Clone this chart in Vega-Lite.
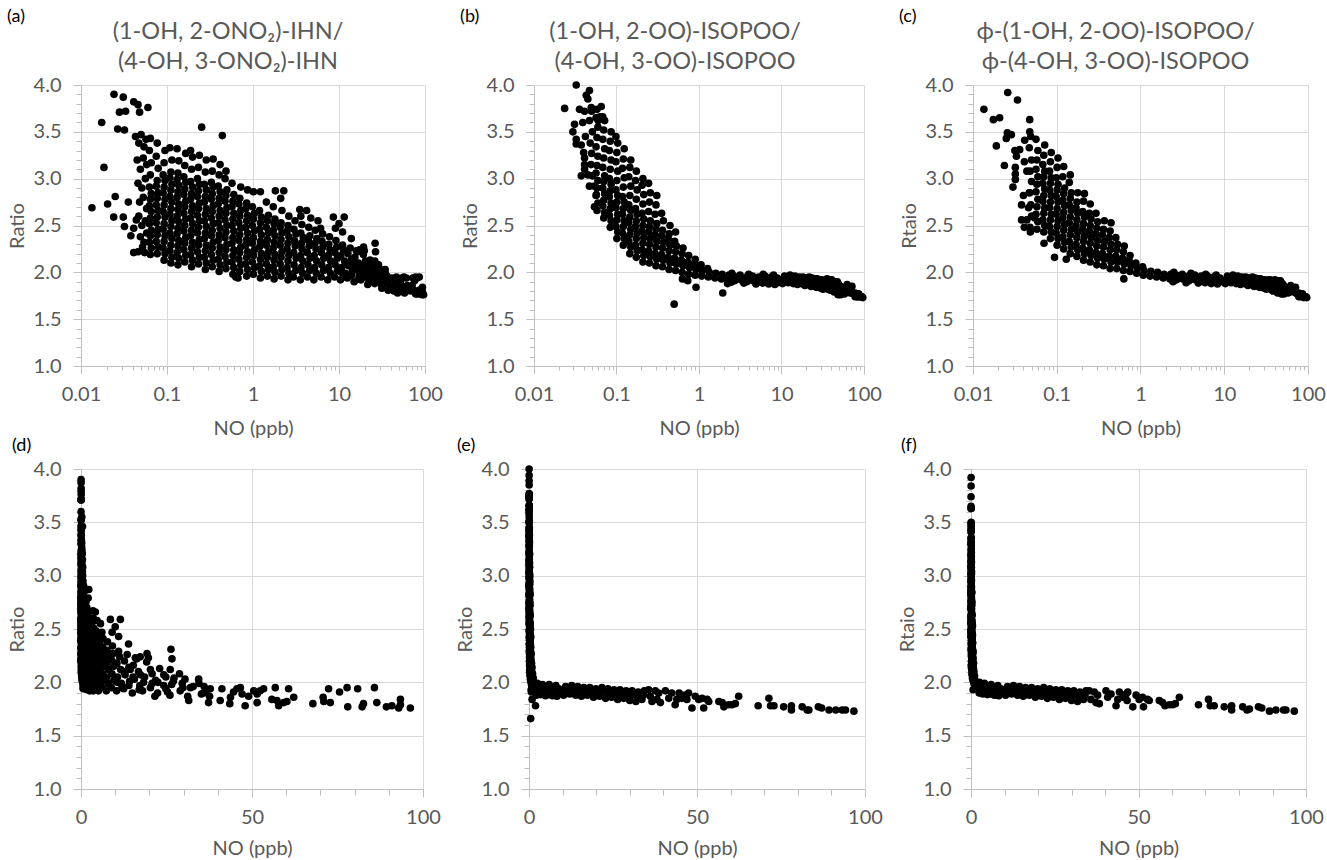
{
"$schema":"https://vega.github.io/schema/vega-lite/v6.json",
"background":"#ffffff",
"padding":{"left":7,"top":7,"right":0,"bottom":0},
"config":{
 "font":"Lato",
 "view":{"stroke":null},
 "axis":{"labelFont":"Lato","labelFontSize":20,"labelColor":"#595959","titleFont":"Lato","titleFontSize":20,"titleFontWeight":"normal","titleColor":"#595959","domainColor":"#bfbfbf","tickColor":"#bfbfbf","gridColor":"#d9d9d9","labelFlush":false,"labelOverlap":false},
 "title":{"font":"Lato","fontSize":23.5,"fontWeight":"normal","color":"#595959"}
},
"datasets":{
"ihn":[
{"NO":0.0134,"ratio":2.69},{"NO":0.0174,"ratio":3.6},{"NO":0.0185,"ratio":3.12},{"NO":0.0204,"ratio":2.73},{"NO":0.0242,"ratio":3.9},{"NO":0.025,"ratio":2.81},{"NO":0.024,"ratio":2.59},{"NO":0.0267,"ratio":3.53},{"NO":0.028,"ratio":3.71},{"NO":0.031,"ratio":3.87},{"NO":0.032,"ratio":3.52},{"NO":0.033,"ratio":3.72},{"NO":0.031,"ratio":2.59},{"NO":0.032,"ratio":2.49},{"NO":0.0355,"ratio":2.75},{"NO":0.038,"ratio":2.39},{"NO":0.044,"ratio":2.56},{"NO":0.041,"ratio":2.47},{"NO":0.041,"ratio":3.82},{"NO":0.046,"ratio":3.79},{"NO":0.048,"ratio":3.71},{"NO":0.06,"ratio":3.76},{"NO":0.041,"ratio":2.21},{"NO":0.046,"ratio":2.22},{"NO":0.055,"ratio":2.21},{"NO":0.253,"ratio":3.55},{"NO":0.44,"ratio":3.46},{"NO":0.63,"ratio":1.95},{"NO":0.67,"ratio":1.94},
{"NO":0.043,"ratio":3.45},{"NO":0.047,"ratio":3.38},{"NO":0.05,"ratio":3.47},{"NO":0.054,"ratio":3.34},{"NO":0.057,"ratio":3.42},{"NO":0.045,"ratio":3.2},{"NO":0.049,"ratio":3.1},{"NO":0.053,"ratio":3.22},{"NO":0.058,"ratio":3.15},{"NO":0.046,"ratio":2.95},{"NO":0.051,"ratio":2.9},{"NO":0.056,"ratio":3.0},{"NO":0.048,"ratio":2.75},{"NO":0.053,"ratio":2.8},{"NO":0.058,"ratio":2.68},{"NO":0.047,"ratio":2.6},{"NO":0.051,"ratio":2.5},{"NO":0.056,"ratio":2.55},{"NO":0.049,"ratio":2.38},{"NO":0.054,"ratio":2.32},{"NO":0.058,"ratio":2.42},{"NO":0.052,"ratio":2.27},
{"NO":0.064,"ratio":2.19},{"NO":0.0656,"ratio":2.26},{"NO":0.0624,"ratio":2.32},{"NO":0.064,"ratio":2.39},{"NO":0.0656,"ratio":2.45},{"NO":0.0624,"ratio":2.52},{"NO":0.064,"ratio":2.58},{"NO":0.0656,"ratio":2.65},{"NO":0.0624,"ratio":2.71},{"NO":0.064,"ratio":2.78},{"NO":0.0656,"ratio":2.84},{"NO":0.0624,"ratio":2.91},{"NO":0.064,"ratio":3.04},{"NO":0.0656,"ratio":3.17},{"NO":0.0624,"ratio":3.3},{"NO":0.064,"ratio":3.43},
{"NO":0.077,"ratio":2.2},{"NO":0.079,"ratio":2.27},{"NO":0.075,"ratio":2.33},{"NO":0.077,"ratio":2.4},{"NO":0.079,"ratio":2.46},{"NO":0.075,"ratio":2.53},{"NO":0.077,"ratio":2.59},{"NO":0.079,"ratio":2.66},{"NO":0.075,"ratio":2.72},{"NO":0.077,"ratio":2.79},{"NO":0.079,"ratio":2.85},{"NO":0.075,"ratio":2.92},{"NO":0.077,"ratio":2.98},{"NO":0.079,"ratio":3.11},{"NO":0.075,"ratio":3.24},{"NO":0.077,"ratio":3.38},
{"NO":0.0925,"ratio":2.13},{"NO":0.0948,"ratio":2.2},{"NO":0.0902,"ratio":2.26},{"NO":0.0925,"ratio":2.33},{"NO":0.0948,"ratio":2.39},{"NO":0.0902,"ratio":2.46},{"NO":0.0925,"ratio":2.52},{"NO":0.0948,"ratio":2.59},{"NO":0.0902,"ratio":2.65},{"NO":0.0925,"ratio":2.72},{"NO":0.0948,"ratio":2.78},{"NO":0.0902,"ratio":2.85},{"NO":0.0925,"ratio":2.91},{"NO":0.0948,"ratio":2.98},{"NO":0.0902,"ratio":3.04},{"NO":0.0925,"ratio":3.17},{"NO":0.0948,"ratio":3.3},
{"NO":0.111,"ratio":2.1},{"NO":0.114,"ratio":2.16},{"NO":0.108,"ratio":2.23},{"NO":0.111,"ratio":2.29},{"NO":0.114,"ratio":2.36},{"NO":0.108,"ratio":2.42},{"NO":0.111,"ratio":2.49},{"NO":0.114,"ratio":2.55},{"NO":0.108,"ratio":2.62},{"NO":0.111,"ratio":2.68},{"NO":0.114,"ratio":2.75},{"NO":0.108,"ratio":2.81},{"NO":0.111,"ratio":2.88},{"NO":0.114,"ratio":2.94},{"NO":0.108,"ratio":3.01},{"NO":0.111,"ratio":3.07},{"NO":0.114,"ratio":3.2},{"NO":0.108,"ratio":3.33},
{"NO":0.134,"ratio":2.08},{"NO":0.137,"ratio":2.15},{"NO":0.131,"ratio":2.21},{"NO":0.134,"ratio":2.28},{"NO":0.137,"ratio":2.34},{"NO":0.131,"ratio":2.41},{"NO":0.134,"ratio":2.47},{"NO":0.137,"ratio":2.54},{"NO":0.131,"ratio":2.6},{"NO":0.134,"ratio":2.67},{"NO":0.137,"ratio":2.73},{"NO":0.131,"ratio":2.8},{"NO":0.134,"ratio":2.86},{"NO":0.137,"ratio":2.93},{"NO":0.131,"ratio":2.99},{"NO":0.134,"ratio":3.06},{"NO":0.137,"ratio":3.19},{"NO":0.131,"ratio":3.32},
{"NO":0.161,"ratio":2.11},{"NO":0.165,"ratio":2.18},{"NO":0.157,"ratio":2.24},{"NO":0.161,"ratio":2.31},{"NO":0.165,"ratio":2.37},{"NO":0.157,"ratio":2.44},{"NO":0.161,"ratio":2.5},{"NO":0.165,"ratio":2.57},{"NO":0.157,"ratio":2.63},{"NO":0.161,"ratio":2.7},{"NO":0.165,"ratio":2.76},{"NO":0.157,"ratio":2.83},{"NO":0.161,"ratio":2.89},{"NO":0.165,"ratio":2.96},{"NO":0.157,"ratio":3.02},{"NO":0.161,"ratio":3.14},{"NO":0.165,"ratio":3.27},
{"NO":0.193,"ratio":2.06},{"NO":0.198,"ratio":2.13},{"NO":0.188,"ratio":2.19},{"NO":0.193,"ratio":2.26},{"NO":0.198,"ratio":2.32},{"NO":0.188,"ratio":2.39},{"NO":0.193,"ratio":2.45},{"NO":0.198,"ratio":2.52},{"NO":0.188,"ratio":2.58},{"NO":0.193,"ratio":2.65},{"NO":0.198,"ratio":2.71},{"NO":0.188,"ratio":2.78},{"NO":0.193,"ratio":2.84},{"NO":0.198,"ratio":2.91},{"NO":0.188,"ratio":2.97},{"NO":0.193,"ratio":3.1},{"NO":0.198,"ratio":3.23},{"NO":0.188,"ratio":3.3},
{"NO":0.232,"ratio":2.09},{"NO":0.238,"ratio":2.16},{"NO":0.226,"ratio":2.22},{"NO":0.232,"ratio":2.29},{"NO":0.238,"ratio":2.35},{"NO":0.226,"ratio":2.42},{"NO":0.232,"ratio":2.48},{"NO":0.238,"ratio":2.55},{"NO":0.226,"ratio":2.61},{"NO":0.232,"ratio":2.68},{"NO":0.238,"ratio":2.74},{"NO":0.226,"ratio":2.81},{"NO":0.232,"ratio":2.87},{"NO":0.238,"ratio":2.94},{"NO":0.226,"ratio":3.0},{"NO":0.232,"ratio":3.12},{"NO":0.238,"ratio":3.25},
{"NO":0.279,"ratio":2.03},{"NO":0.286,"ratio":2.1},{"NO":0.272,"ratio":2.16},{"NO":0.279,"ratio":2.23},{"NO":0.286,"ratio":2.29},{"NO":0.272,"ratio":2.36},{"NO":0.279,"ratio":2.42},{"NO":0.286,"ratio":2.49},{"NO":0.272,"ratio":2.55},{"NO":0.279,"ratio":2.62},{"NO":0.286,"ratio":2.68},{"NO":0.272,"ratio":2.75},{"NO":0.279,"ratio":2.81},{"NO":0.286,"ratio":2.88},{"NO":0.272,"ratio":2.94},{"NO":0.279,"ratio":3.07},{"NO":0.286,"ratio":3.2},
{"NO":0.336,"ratio":2.06},{"NO":0.344,"ratio":2.13},{"NO":0.328,"ratio":2.19},{"NO":0.336,"ratio":2.26},{"NO":0.344,"ratio":2.32},{"NO":0.328,"ratio":2.39},{"NO":0.336,"ratio":2.45},{"NO":0.344,"ratio":2.52},{"NO":0.328,"ratio":2.58},{"NO":0.336,"ratio":2.65},{"NO":0.344,"ratio":2.71},{"NO":0.328,"ratio":2.78},{"NO":0.336,"ratio":2.84},{"NO":0.344,"ratio":2.91},{"NO":0.328,"ratio":2.96},{"NO":0.336,"ratio":3.08},{"NO":0.344,"ratio":3.21},
{"NO":0.404,"ratio":2.01},{"NO":0.414,"ratio":2.08},{"NO":0.394,"ratio":2.14},{"NO":0.404,"ratio":2.21},{"NO":0.414,"ratio":2.27},{"NO":0.394,"ratio":2.34},{"NO":0.404,"ratio":2.4},{"NO":0.414,"ratio":2.47},{"NO":0.394,"ratio":2.53},{"NO":0.404,"ratio":2.6},{"NO":0.414,"ratio":2.66},{"NO":0.394,"ratio":2.73},{"NO":0.404,"ratio":2.79},{"NO":0.414,"ratio":2.86},{"NO":0.394,"ratio":2.92},{"NO":0.404,"ratio":3.04},{"NO":0.414,"ratio":3.15},
{"NO":0.485,"ratio":2.04},{"NO":0.497,"ratio":2.11},{"NO":0.473,"ratio":2.17},{"NO":0.485,"ratio":2.24},{"NO":0.497,"ratio":2.3},{"NO":0.473,"ratio":2.37},{"NO":0.485,"ratio":2.43},{"NO":0.497,"ratio":2.5},{"NO":0.473,"ratio":2.56},{"NO":0.485,"ratio":2.63},{"NO":0.497,"ratio":2.69},{"NO":0.473,"ratio":2.76},{"NO":0.485,"ratio":2.82},{"NO":0.497,"ratio":2.88},{"NO":0.473,"ratio":3.0},{"NO":0.485,"ratio":3.08},
{"NO":0.584,"ratio":1.98},{"NO":0.598,"ratio":2.05},{"NO":0.57,"ratio":2.11},{"NO":0.584,"ratio":2.18},{"NO":0.598,"ratio":2.24},{"NO":0.57,"ratio":2.31},{"NO":0.584,"ratio":2.37},{"NO":0.598,"ratio":2.44},{"NO":0.57,"ratio":2.5},{"NO":0.584,"ratio":2.57},{"NO":0.598,"ratio":2.63},{"NO":0.57,"ratio":2.7},{"NO":0.584,"ratio":2.76},{"NO":0.598,"ratio":2.83},{"NO":0.57,"ratio":2.95},
{"NO":0.702,"ratio":2.01},{"NO":0.72,"ratio":2.08},{"NO":0.685,"ratio":2.14},{"NO":0.702,"ratio":2.21},{"NO":0.72,"ratio":2.27},{"NO":0.685,"ratio":2.34},{"NO":0.702,"ratio":2.4},{"NO":0.72,"ratio":2.47},{"NO":0.685,"ratio":2.53},{"NO":0.702,"ratio":2.6},{"NO":0.72,"ratio":2.66},{"NO":0.685,"ratio":2.73},{"NO":0.702,"ratio":2.79},{"NO":0.72,"ratio":2.91},
{"NO":0.844,"ratio":1.96},{"NO":0.865,"ratio":2.03},{"NO":0.823,"ratio":2.09},{"NO":0.844,"ratio":2.16},{"NO":0.865,"ratio":2.22},{"NO":0.823,"ratio":2.29},{"NO":0.844,"ratio":2.35},{"NO":0.865,"ratio":2.42},{"NO":0.823,"ratio":2.48},{"NO":0.844,"ratio":2.55},{"NO":0.865,"ratio":2.61},{"NO":0.823,"ratio":2.68},{"NO":0.844,"ratio":2.74},{"NO":0.865,"ratio":2.88},
{"NO":1.01,"ratio":1.98},{"NO":1.04,"ratio":2.05},{"NO":0.985,"ratio":2.11},{"NO":1.01,"ratio":2.18},{"NO":1.04,"ratio":2.24},{"NO":0.985,"ratio":2.31},{"NO":1.01,"ratio":2.37},{"NO":1.04,"ratio":2.44},{"NO":0.985,"ratio":2.5},{"NO":1.01,"ratio":2.57},{"NO":1.04,"ratio":2.63},{"NO":0.985,"ratio":2.7},{"NO":1.01,"ratio":2.86},
{"NO":1.22,"ratio":1.94},{"NO":1.25,"ratio":2.01},{"NO":1.19,"ratio":2.07},{"NO":1.22,"ratio":2.14},{"NO":1.25,"ratio":2.2},{"NO":1.19,"ratio":2.27},{"NO":1.22,"ratio":2.33},{"NO":1.25,"ratio":2.4},{"NO":1.19,"ratio":2.46},{"NO":1.22,"ratio":2.53},{"NO":1.25,"ratio":2.59},{"NO":1.19,"ratio":2.66},{"NO":1.22,"ratio":2.86},
{"NO":1.47,"ratio":1.96},{"NO":1.51,"ratio":2.03},{"NO":1.43,"ratio":2.09},{"NO":1.47,"ratio":2.16},{"NO":1.51,"ratio":2.22},{"NO":1.43,"ratio":2.29},{"NO":1.47,"ratio":2.35},{"NO":1.51,"ratio":2.42},{"NO":1.43,"ratio":2.48},{"NO":1.47,"ratio":2.55},{"NO":1.51,"ratio":2.61},{"NO":1.43,"ratio":2.75},
{"NO":1.76,"ratio":1.93},{"NO":1.8,"ratio":2.0},{"NO":1.72,"ratio":2.06},{"NO":1.76,"ratio":2.13},{"NO":1.8,"ratio":2.19},{"NO":1.72,"ratio":2.26},{"NO":1.76,"ratio":2.32},{"NO":1.8,"ratio":2.39},{"NO":1.72,"ratio":2.45},{"NO":1.76,"ratio":2.52},{"NO":1.8,"ratio":2.57},{"NO":1.72,"ratio":2.7},
{"NO":2.12,"ratio":1.96},{"NO":2.17,"ratio":2.03},{"NO":2.07,"ratio":2.09},{"NO":2.12,"ratio":2.16},{"NO":2.17,"ratio":2.22},{"NO":2.07,"ratio":2.29},{"NO":2.12,"ratio":2.35},{"NO":2.17,"ratio":2.42},{"NO":2.07,"ratio":2.48},{"NO":2.12,"ratio":2.53},{"NO":2.17,"ratio":2.66},
{"NO":2.55,"ratio":1.92},{"NO":2.61,"ratio":1.99},{"NO":2.49,"ratio":2.05},{"NO":2.55,"ratio":2.12},{"NO":2.61,"ratio":2.18},{"NO":2.49,"ratio":2.25},{"NO":2.55,"ratio":2.31},{"NO":2.61,"ratio":2.38},{"NO":2.49,"ratio":2.44},{"NO":2.55,"ratio":2.5},{"NO":2.61,"ratio":2.6},
{"NO":2.95,"ratio":1.95},{"NO":3.14,"ratio":2.02},{"NO":3.0,"ratio":2.08},{"NO":3.18,"ratio":2.15},{"NO":2.97,"ratio":2.21},{"NO":3.1,"ratio":2.28},{"NO":3.04,"ratio":2.34},{"NO":3.16,"ratio":2.41},{"NO":2.99,"ratio":2.46},{"NO":3.08,"ratio":2.55},
{"NO":3.55,"ratio":1.92},{"NO":3.78,"ratio":1.99},{"NO":3.62,"ratio":2.05},{"NO":3.8,"ratio":2.12},{"NO":3.58,"ratio":2.18},{"NO":3.72,"ratio":2.25},{"NO":3.65,"ratio":2.31},{"NO":3.84,"ratio":2.37},{"NO":3.6,"ratio":2.42},{"NO":3.7,"ratio":2.51},
{"NO":4.3,"ratio":1.95},{"NO":4.55,"ratio":2.02},{"NO":4.36,"ratio":2.08},{"NO":4.6,"ratio":2.15},{"NO":4.28,"ratio":2.21},{"NO":4.5,"ratio":2.28},{"NO":4.4,"ratio":2.34},{"NO":4.58,"ratio":2.39},{"NO":4.45,"ratio":2.48},
{"NO":5.1,"ratio":1.92},{"NO":5.45,"ratio":1.99},{"NO":5.2,"ratio":2.05},{"NO":5.5,"ratio":2.12},{"NO":5.15,"ratio":2.18},{"NO":5.4,"ratio":2.25},{"NO":5.25,"ratio":2.31},{"NO":5.52,"ratio":2.36},{"NO":5.3,"ratio":2.45},
{"NO":6.2,"ratio":1.95},{"NO":6.6,"ratio":2.02},{"NO":6.3,"ratio":2.08},{"NO":6.65,"ratio":2.15},{"NO":6.25,"ratio":2.21},{"NO":6.5,"ratio":2.27},{"NO":6.35,"ratio":2.33},{"NO":6.45,"ratio":2.41},
{"NO":7.4,"ratio":1.92},{"NO":7.95,"ratio":1.99},{"NO":7.55,"ratio":2.05},{"NO":8.0,"ratio":2.12},{"NO":7.5,"ratio":2.18},{"NO":7.85,"ratio":2.24},{"NO":7.6,"ratio":2.3},{"NO":7.75,"ratio":2.38},
{"NO":8.9,"ratio":1.95},{"NO":9.6,"ratio":2.02},{"NO":9.05,"ratio":2.08},{"NO":9.55,"ratio":2.15},{"NO":8.95,"ratio":2.21},{"NO":9.4,"ratio":2.27},{"NO":9.2,"ratio":2.34},
{"NO":10.4,"ratio":1.92},{"NO":11.8,"ratio":1.99},{"NO":10.7,"ratio":2.05},{"NO":11.6,"ratio":2.12},{"NO":10.5,"ratio":2.18},{"NO":11.3,"ratio":2.24},{"NO":11.0,"ratio":2.29},
{"NO":12.5,"ratio":1.94},{"NO":14.2,"ratio":2.01},{"NO":12.9,"ratio":2.07},{"NO":14.0,"ratio":2.14},{"NO":12.7,"ratio":2.2},{"NO":13.5,"ratio":2.26},
{"NO":15.0,"ratio":1.9},{"NO":17.2,"ratio":1.97},{"NO":15.6,"ratio":2.03},{"NO":16.8,"ratio":2.1},{"NO":15.3,"ratio":2.16},{"NO":16.3,"ratio":2.22},
{"NO":18.0,"ratio":1.92},{"NO":20.8,"ratio":1.99},{"NO":18.6,"ratio":2.05},{"NO":20.3,"ratio":2.12},{"NO":19.2,"ratio":2.19},
{"NO":21.6,"ratio":1.87},{"NO":24.8,"ratio":1.94},{"NO":22.5,"ratio":2.0},{"NO":24.2,"ratio":2.07},{"NO":23.0,"ratio":2.13},
{"NO":26.0,"ratio":1.88},{"NO":29.8,"ratio":1.95},{"NO":27.0,"ratio":2.01},{"NO":28.8,"ratio":2.08},
{"NO":31.5,"ratio":1.83},{"NO":35.8,"ratio":1.9},{"NO":32.8,"ratio":1.96},{"NO":34.4,"ratio":2.03},
{"NO":10.6,"ratio":2.0},{"NO":12.0,"ratio":1.95},{"NO":12.6,"ratio":2.1},{"NO":14.0,"ratio":1.97},{"NO":14.4,"ratio":2.12},{"NO":15.2,"ratio":2.05},{"NO":17.0,"ratio":1.93},{"NO":17.4,"ratio":2.07},{"NO":18.3,"ratio":2.0},{"NO":20.3,"ratio":1.95},{"NO":20.8,"ratio":2.08},{"NO":21.8,"ratio":2.02},{"NO":22.4,"ratio":1.9},{"NO":24.2,"ratio":1.97},{"NO":24.8,"ratio":2.05},{"NO":25.3,"ratio":1.91},{"NO":26.5,"ratio":1.98},{"NO":27.2,"ratio":2.04},{"NO":29.0,"ratio":1.92},{"NO":29.6,"ratio":1.99},{"NO":30.4,"ratio":2.03},{"NO":31.2,"ratio":1.87},{"NO":32.0,"ratio":1.95},{"NO":34.5,"ratio":1.99},{"NO":35.2,"ratio":1.89},{"NO":36.0,"ratio":1.96},{"NO":36.6,"ratio":1.92},
{"NO":3.5,"ratio":2.67},{"NO":4.2,"ratio":2.66},{"NO":4.7,"ratio":2.58},{"NO":5.7,"ratio":2.55},{"NO":6.1,"ratio":2.47},{"NO":8.6,"ratio":2.59},{"NO":9.1,"ratio":2.47},{"NO":10.0,"ratio":2.52},{"NO":11.5,"ratio":2.59},{"NO":11.0,"ratio":2.43},{"NO":13.9,"ratio":2.36},{"NO":15.9,"ratio":2.23},{"NO":17.3,"ratio":2.24},{"NO":19.3,"ratio":2.27},{"NO":19.7,"ratio":2.23},{"NO":26.3,"ratio":2.31},{"NO":26.6,"ratio":2.22},{"NO":26.1,"ratio":2.12},{"NO":2.28,"ratio":2.87},{"NO":1.82,"ratio":2.87},{"NO":2.1,"ratio":2.79},{"NO":3.6,"ratio":2.6},
{"NO":37.3,"ratio":1.81},{"NO":37.8,"ratio":1.94},{"NO":37.6,"ratio":1.87},{"NO":40.7,"ratio":1.83},{"NO":41.2,"ratio":1.94},{"NO":43.5,"ratio":1.8},{"NO":43.7,"ratio":1.86},{"NO":44.6,"ratio":1.91},{"NO":45.6,"ratio":1.94},{"NO":46.6,"ratio":1.95},{"NO":47.1,"ratio":1.89},{"NO":48.0,"ratio":1.78},{"NO":49.0,"ratio":1.87},{"NO":50.5,"ratio":1.92},{"NO":51.5,"ratio":1.89},{"NO":51.5,"ratio":1.81},{"NO":52.4,"ratio":1.92},{"NO":53.4,"ratio":1.94},{"NO":55.8,"ratio":1.84},{"NO":56.8,"ratio":1.95},{"NO":57.3,"ratio":1.83},{"NO":57.8,"ratio":1.78},{"NO":59.3,"ratio":1.81},{"NO":60.2,"ratio":1.82},{"NO":60.7,"ratio":1.94},{"NO":62.2,"ratio":1.86},{"NO":67.8,"ratio":1.8},{"NO":70.8,"ratio":1.86},{"NO":71.0,"ratio":1.82},{"NO":72.4,"ratio":1.94},{"NO":72.9,"ratio":1.81},{"NO":75.6,"ratio":1.91},{"NO":77.8,"ratio":1.95},{"NO":78.0,"ratio":1.77},{"NO":80.9,"ratio":1.94},{"NO":82.2,"ratio":1.77},{"NO":82.6,"ratio":1.8},{"NO":85.8,"ratio":1.95},{"NO":86.5,"ratio":1.81},{"NO":89.3,"ratio":1.77},{"NO":90.9,"ratio":1.78},{"NO":92.9,"ratio":1.76},{"NO":93.4,"ratio":1.84},{"NO":93.4,"ratio":1.79},{"NO":96.3,"ratio":1.76}
],
"isopoo":[
{"NO":0.0325,"ratio":4.0},{"NO":0.0235,"ratio":3.75},{"NO":0.047,"ratio":3.94},{"NO":0.043,"ratio":3.89},{"NO":0.045,"ratio":3.85},{"NO":0.0356,"ratio":3.74},{"NO":0.041,"ratio":3.72},{"NO":0.0494,"ratio":3.76},{"NO":0.0653,"ratio":3.77},{"NO":0.0296,"ratio":3.5},{"NO":0.031,"ratio":3.58},{"NO":0.0325,"ratio":3.42},{"NO":0.0325,"ratio":3.37},{"NO":0.0374,"ratio":3.36},{"NO":0.0374,"ratio":3.03},{"NO":0.045,"ratio":3.04},{"NO":0.041,"ratio":3.22},{"NO":0.041,"ratio":3.15},{"NO":0.054,"ratio":2.92},{"NO":0.057,"ratio":2.83},{"NO":0.054,"ratio":2.7},{"NO":0.06,"ratio":3.62},{"NO":0.063,"ratio":3.66},{"NO":0.068,"ratio":3.66},
{"NO":0.5,"ratio":1.66},{"NO":0.92,"ratio":1.84},{"NO":1.94,"ratio":1.78},{"NO":0.63,"ratio":1.93},{"NO":0.73,"ratio":1.91},{"NO":2.22,"ratio":1.88},
{"NO":0.041,"ratio":3.1},{"NO":0.04,"ratio":3.28},{"NO":0.042,"ratio":3.45},{"NO":0.039,"ratio":3.6},
{"NO":0.047,"ratio":2.92},{"NO":0.051,"ratio":3.03},{"NO":0.049,"ratio":3.15},{"NO":0.05,"ratio":3.27},{"NO":0.048,"ratio":3.38},{"NO":0.051,"ratio":3.5},{"NO":0.047,"ratio":3.62},{"NO":0.05,"ratio":3.72},
{"NO":0.058,"ratio":2.66},{"NO":0.0595,"ratio":2.74},{"NO":0.0565,"ratio":2.82},{"NO":0.058,"ratio":2.9},{"NO":0.0595,"ratio":2.98},{"NO":0.0565,"ratio":3.06},{"NO":0.058,"ratio":3.14},{"NO":0.0595,"ratio":3.24},{"NO":0.0565,"ratio":3.34},{"NO":0.058,"ratio":3.44},{"NO":0.0595,"ratio":3.55},{"NO":0.0565,"ratio":3.65},{"NO":0.058,"ratio":3.74},
{"NO":0.07,"ratio":2.58},{"NO":0.0718,"ratio":2.64},{"NO":0.0682,"ratio":2.71},{"NO":0.07,"ratio":2.77},{"NO":0.0718,"ratio":2.84},{"NO":0.0682,"ratio":2.9},{"NO":0.07,"ratio":2.97},{"NO":0.0718,"ratio":3.03},{"NO":0.0682,"ratio":3.12},{"NO":0.07,"ratio":3.22},{"NO":0.0718,"ratio":3.32},{"NO":0.0682,"ratio":3.42},{"NO":0.07,"ratio":3.52},{"NO":0.0718,"ratio":3.62},
{"NO":0.084,"ratio":2.48},{"NO":0.086,"ratio":2.55},{"NO":0.082,"ratio":2.61},{"NO":0.084,"ratio":2.68},{"NO":0.086,"ratio":2.74},{"NO":0.082,"ratio":2.81},{"NO":0.084,"ratio":2.87},{"NO":0.086,"ratio":2.94},{"NO":0.082,"ratio":3.0},{"NO":0.084,"ratio":3.1},{"NO":0.086,"ratio":3.2},{"NO":0.082,"ratio":3.3},{"NO":0.084,"ratio":3.4},{"NO":0.086,"ratio":3.5},
{"NO":0.101,"ratio":2.36},{"NO":0.1035,"ratio":2.43},{"NO":0.0985,"ratio":2.49},{"NO":0.101,"ratio":2.56},{"NO":0.1035,"ratio":2.62},{"NO":0.0985,"ratio":2.69},{"NO":0.101,"ratio":2.75},{"NO":0.1035,"ratio":2.82},{"NO":0.0985,"ratio":2.88},{"NO":0.101,"ratio":2.98},{"NO":0.1035,"ratio":3.08},{"NO":0.0985,"ratio":3.18},{"NO":0.101,"ratio":3.28},{"NO":0.1035,"ratio":3.38},{"NO":0.0985,"ratio":3.45},
{"NO":0.121,"ratio":2.29},{"NO":0.124,"ratio":2.36},{"NO":0.118,"ratio":2.42},{"NO":0.121,"ratio":2.49},{"NO":0.124,"ratio":2.55},{"NO":0.118,"ratio":2.62},{"NO":0.121,"ratio":2.68},{"NO":0.124,"ratio":2.75},{"NO":0.118,"ratio":2.81},{"NO":0.121,"ratio":2.91},{"NO":0.124,"ratio":3.01},{"NO":0.118,"ratio":3.11},{"NO":0.121,"ratio":3.21},{"NO":0.124,"ratio":3.32},
{"NO":0.145,"ratio":2.2},{"NO":0.149,"ratio":2.27},{"NO":0.141,"ratio":2.33},{"NO":0.145,"ratio":2.4},{"NO":0.149,"ratio":2.46},{"NO":0.141,"ratio":2.53},{"NO":0.145,"ratio":2.59},{"NO":0.149,"ratio":2.66},{"NO":0.141,"ratio":2.72},{"NO":0.145,"ratio":2.82},{"NO":0.149,"ratio":2.92},{"NO":0.141,"ratio":3.02},{"NO":0.145,"ratio":3.12},{"NO":0.149,"ratio":3.2},
{"NO":0.174,"ratio":2.16},{"NO":0.178,"ratio":2.23},{"NO":0.17,"ratio":2.29},{"NO":0.174,"ratio":2.36},{"NO":0.178,"ratio":2.42},{"NO":0.17,"ratio":2.49},{"NO":0.174,"ratio":2.55},{"NO":0.178,"ratio":2.62},{"NO":0.17,"ratio":2.68},{"NO":0.174,"ratio":2.78},{"NO":0.178,"ratio":2.88},{"NO":0.17,"ratio":2.98},{"NO":0.174,"ratio":3.08},
{"NO":0.209,"ratio":2.11},{"NO":0.214,"ratio":2.18},{"NO":0.204,"ratio":2.24},{"NO":0.209,"ratio":2.31},{"NO":0.214,"ratio":2.37},{"NO":0.204,"ratio":2.44},{"NO":0.209,"ratio":2.5},{"NO":0.214,"ratio":2.57},{"NO":0.204,"ratio":2.63},{"NO":0.209,"ratio":2.73},{"NO":0.214,"ratio":2.83},{"NO":0.204,"ratio":2.93},{"NO":0.209,"ratio":3.0},
{"NO":0.251,"ratio":2.1},{"NO":0.257,"ratio":2.17},{"NO":0.245,"ratio":2.23},{"NO":0.251,"ratio":2.3},{"NO":0.257,"ratio":2.36},{"NO":0.245,"ratio":2.43},{"NO":0.251,"ratio":2.49},{"NO":0.257,"ratio":2.55},{"NO":0.245,"ratio":2.65},{"NO":0.251,"ratio":2.75},{"NO":0.257,"ratio":2.85},{"NO":0.245,"ratio":2.95},
{"NO":0.301,"ratio":2.07},{"NO":0.308,"ratio":2.14},{"NO":0.294,"ratio":2.2},{"NO":0.301,"ratio":2.27},{"NO":0.308,"ratio":2.33},{"NO":0.294,"ratio":2.4},{"NO":0.301,"ratio":2.46},{"NO":0.308,"ratio":2.52},{"NO":0.294,"ratio":2.62},{"NO":0.301,"ratio":2.72},{"NO":0.308,"ratio":2.82},
{"NO":0.361,"ratio":2.06},{"NO":0.37,"ratio":2.13},{"NO":0.352,"ratio":2.19},{"NO":0.361,"ratio":2.26},{"NO":0.37,"ratio":2.32},{"NO":0.352,"ratio":2.39},{"NO":0.361,"ratio":2.45},{"NO":0.37,"ratio":2.55},{"NO":0.352,"ratio":2.63},
{"NO":0.434,"ratio":2.03},{"NO":0.445,"ratio":2.1},{"NO":0.423,"ratio":2.16},{"NO":0.434,"ratio":2.23},{"NO":0.445,"ratio":2.29},{"NO":0.423,"ratio":2.36},{"NO":0.434,"ratio":2.41},{"NO":0.445,"ratio":2.5},
{"NO":0.52,"ratio":2.02},{"NO":0.533,"ratio":2.09},{"NO":0.507,"ratio":2.15},{"NO":0.52,"ratio":2.22},{"NO":0.533,"ratio":2.28},{"NO":0.507,"ratio":2.33},{"NO":0.52,"ratio":2.43},
{"NO":0.625,"ratio":2.0},{"NO":0.64,"ratio":2.07},{"NO":0.61,"ratio":2.13},{"NO":0.625,"ratio":2.2},{"NO":0.64,"ratio":2.26},
{"NO":0.75,"ratio":1.98},{"NO":0.77,"ratio":2.05},{"NO":0.73,"ratio":2.11},{"NO":0.75,"ratio":2.18},
{"NO":0.9,"ratio":1.97},{"NO":0.92,"ratio":2.03},{"NO":0.88,"ratio":2.09},{"NO":0.9,"ratio":2.14},
{"NO":1.08,"ratio":1.96},{"NO":1.1,"ratio":2.02},{"NO":1.06,"ratio":2.08},
{"NO":1.3,"ratio":1.95},{"NO":1.33,"ratio":2.0},{"NO":1.27,"ratio":2.04},
{"NO":1.56,"ratio":1.94},{"NO":1.6,"ratio":1.99},{"NO":1.87,"ratio":1.93},{"NO":1.91,"ratio":1.98},
{"NO":2.25,"ratio":1.92},{"NO":2.3,"ratio":1.97},{"NO":2.7,"ratio":1.91},{"NO":2.65,"ratio":1.96},{"NO":3.2,"ratio":1.92},{"NO":3.15,"ratio":1.97},{"NO":3.8,"ratio":1.9},{"NO":3.75,"ratio":1.95},{"NO":4.5,"ratio":1.91},{"NO":4.45,"ratio":1.96},{"NO":5.4,"ratio":1.9},{"NO":5.3,"ratio":1.95},{"NO":6.4,"ratio":1.91},{"NO":6.3,"ratio":1.96},{"NO":7.6,"ratio":1.9},{"NO":7.5,"ratio":1.95},{"NO":9.0,"ratio":1.89},{"NO":8.9,"ratio":1.94},{"NO":2.45,"ratio":1.895},{"NO":3.5,"ratio":1.885},{"NO":4.9,"ratio":1.875},{"NO":5.9,"ratio":1.885},{"NO":7.0,"ratio":1.875},{"NO":8.3,"ratio":1.87},{"NO":2.5,"ratio":1.99},{"NO":4.0,"ratio":1.98},{"NO":6.0,"ratio":1.98},{"NO":8.0,"ratio":1.97},
{"NO":10.3,"ratio":1.88},{"NO":10.6,"ratio":1.92},{"NO":10.9,"ratio":1.96},{"NO":12.1,"ratio":1.89},{"NO":12.4,"ratio":1.93},{"NO":12.7,"ratio":1.97},{"NO":13.9,"ratio":1.88},{"NO":14.2,"ratio":1.92},{"NO":14.5,"ratio":1.96},{"NO":15.6,"ratio":1.87},{"NO":16.0,"ratio":1.91},{"NO":16.3,"ratio":1.95},{"NO":17.4,"ratio":1.88},{"NO":17.8,"ratio":1.92},{"NO":18.1,"ratio":1.95},{"NO":19.2,"ratio":1.86},{"NO":19.6,"ratio":1.9},{"NO":19.9,"ratio":1.94},{"NO":21.0,"ratio":1.87},{"NO":21.4,"ratio":1.91},{"NO":21.7,"ratio":1.95},{"NO":22.8,"ratio":1.85},{"NO":23.2,"ratio":1.9},{"NO":23.5,"ratio":1.94},{"NO":24.6,"ratio":1.86},{"NO":25.0,"ratio":1.9},{"NO":25.3,"ratio":1.93},{"NO":26.4,"ratio":1.84},{"NO":26.8,"ratio":1.89},{"NO":27.1,"ratio":1.93},{"NO":28.2,"ratio":1.85},{"NO":28.6,"ratio":1.88},{"NO":28.9,"ratio":1.92},{"NO":30.0,"ratio":1.83},{"NO":30.4,"ratio":1.88},{"NO":30.7,"ratio":1.92},{"NO":31.8,"ratio":1.82},{"NO":32.2,"ratio":1.87},{"NO":32.5,"ratio":1.91},{"NO":33.6,"ratio":1.84},{"NO":34.0,"ratio":1.88},{"NO":34.3,"ratio":1.92},
{"NO":35.6,"ratio":1.93},{"NO":36.1,"ratio":1.87},{"NO":36.6,"ratio":1.82},{"NO":37.6,"ratio":1.92},{"NO":38.1,"ratio":1.84},{"NO":38.6,"ratio":1.9},{"NO":39.1,"ratio":1.81},{"NO":40.6,"ratio":1.92},{"NO":41.6,"ratio":1.85},{"NO":42.5,"ratio":1.9},{"NO":43.5,"ratio":1.79},{"NO":44.0,"ratio":1.84},{"NO":44.7,"ratio":1.9},{"NO":45.5,"ratio":1.85},{"NO":46.5,"ratio":1.88},{"NO":47.5,"ratio":1.9},{"NO":47.0,"ratio":1.84},{"NO":48.5,"ratio":1.76},{"NO":49.5,"ratio":1.87},{"NO":50.5,"ratio":1.84},{"NO":51.5,"ratio":1.85},{"NO":52.0,"ratio":1.76},{"NO":53.0,"ratio":1.84},{"NO":53.5,"ratio":1.82},{"NO":56.5,"ratio":1.82},{"NO":57.5,"ratio":1.81},{"NO":58.0,"ratio":1.77},{"NO":59.4,"ratio":1.79},{"NO":60.4,"ratio":1.79},{"NO":61.4,"ratio":1.8},{"NO":62.4,"ratio":1.87},{"NO":68.2,"ratio":1.78},{"NO":71.4,"ratio":1.85},{"NO":71.9,"ratio":1.78},{"NO":72.9,"ratio":1.78},{"NO":75.8,"ratio":1.77},{"NO":78.1,"ratio":1.78},{"NO":78.1,"ratio":1.74},{"NO":81.3,"ratio":1.77},{"NO":82.8,"ratio":1.74},{"NO":83.3,"ratio":1.74},{"NO":86.1,"ratio":1.77},{"NO":87.1,"ratio":1.76},{"NO":89.3,"ratio":1.74},{"NO":91.3,"ratio":1.74},{"NO":93.2,"ratio":1.74},{"NO":94.2,"ratio":1.74},{"NO":96.7,"ratio":1.73}
],
"phi":[
{"NO":0.0135,"ratio":3.74},{"NO":0.026,"ratio":3.92},{"NO":0.034,"ratio":3.84},{"NO":0.0175,"ratio":3.63},{"NO":0.0208,"ratio":3.65},{"NO":0.0257,"ratio":3.49},{"NO":0.0287,"ratio":3.47},{"NO":0.025,"ratio":3.43},{"NO":0.019,"ratio":3.35},{"NO":0.0476,"ratio":3.63},{"NO":0.0476,"ratio":3.5},{"NO":0.0414,"ratio":3.41},{"NO":0.0361,"ratio":3.31},{"NO":0.0316,"ratio":3.3},{"NO":0.0237,"ratio":3.14},{"NO":0.03,"ratio":2.91},{"NO":0.032,"ratio":2.99},{"NO":0.032,"ratio":3.05},{"NO":0.032,"ratio":3.12},{"NO":0.033,"ratio":3.24},{"NO":0.038,"ratio":2.72},{"NO":0.038,"ratio":2.56},{"NO":0.041,"ratio":2.48},{"NO":0.0484,"ratio":2.43},{"NO":0.044,"ratio":2.56},{"NO":0.0545,"ratio":2.58},{"NO":0.041,"ratio":3.18},{"NO":0.044,"ratio":3.08},{"NO":0.0476,"ratio":2.85},{"NO":0.04,"ratio":2.82},{"NO":0.046,"ratio":2.69},{"NO":0.094,"ratio":2.16},{"NO":0.13,"ratio":2.14},{"NO":0.0705,"ratio":2.31},{"NO":0.632,"ratio":1.93},
{"NO":0.048,"ratio":2.48},{"NO":0.05,"ratio":2.6},{"NO":0.049,"ratio":2.72},{"NO":0.047,"ratio":2.85},{"NO":0.05,"ratio":2.97},{"NO":0.048,"ratio":3.08},{"NO":0.05,"ratio":3.2},{"NO":0.047,"ratio":3.33},{"NO":0.049,"ratio":3.45},
{"NO":0.058,"ratio":2.46},{"NO":0.0595,"ratio":2.54},{"NO":0.0565,"ratio":2.62},{"NO":0.058,"ratio":2.7},{"NO":0.0595,"ratio":2.78},{"NO":0.0565,"ratio":2.86},{"NO":0.058,"ratio":2.94},{"NO":0.0595,"ratio":3.02},{"NO":0.0565,"ratio":3.1},{"NO":0.058,"ratio":3.2},{"NO":0.0595,"ratio":3.3},{"NO":0.0565,"ratio":3.42},
{"NO":0.07,"ratio":2.43},{"NO":0.0718,"ratio":2.5},{"NO":0.0682,"ratio":2.56},{"NO":0.07,"ratio":2.63},{"NO":0.0718,"ratio":2.69},{"NO":0.0682,"ratio":2.76},{"NO":0.07,"ratio":2.82},{"NO":0.0718,"ratio":2.89},{"NO":0.0682,"ratio":2.95},{"NO":0.07,"ratio":3.02},{"NO":0.0718,"ratio":3.08},{"NO":0.0682,"ratio":3.15},{"NO":0.07,"ratio":3.25},{"NO":0.0718,"ratio":3.36},
{"NO":0.084,"ratio":2.36},{"NO":0.086,"ratio":2.43},{"NO":0.082,"ratio":2.49},{"NO":0.084,"ratio":2.56},{"NO":0.086,"ratio":2.62},{"NO":0.082,"ratio":2.69},{"NO":0.084,"ratio":2.75},{"NO":0.086,"ratio":2.82},{"NO":0.082,"ratio":2.88},{"NO":0.084,"ratio":2.95},{"NO":0.086,"ratio":3.01},{"NO":0.082,"ratio":3.08},{"NO":0.084,"ratio":3.18},{"NO":0.086,"ratio":3.28},
{"NO":0.101,"ratio":2.29},{"NO":0.1035,"ratio":2.36},{"NO":0.0985,"ratio":2.42},{"NO":0.101,"ratio":2.49},{"NO":0.1035,"ratio":2.55},{"NO":0.0985,"ratio":2.62},{"NO":0.101,"ratio":2.68},{"NO":0.1035,"ratio":2.75},{"NO":0.0985,"ratio":2.81},{"NO":0.101,"ratio":2.88},{"NO":0.1035,"ratio":2.94},{"NO":0.0985,"ratio":3.01},{"NO":0.101,"ratio":3.12},{"NO":0.1035,"ratio":3.22},
{"NO":0.121,"ratio":2.25},{"NO":0.124,"ratio":2.32},{"NO":0.118,"ratio":2.38},{"NO":0.121,"ratio":2.45},{"NO":0.124,"ratio":2.51},{"NO":0.118,"ratio":2.58},{"NO":0.121,"ratio":2.64},{"NO":0.124,"ratio":2.71},{"NO":0.118,"ratio":2.77},{"NO":0.121,"ratio":2.84},{"NO":0.124,"ratio":2.9},{"NO":0.118,"ratio":3.02},{"NO":0.121,"ratio":3.13},
{"NO":0.145,"ratio":2.2},{"NO":0.149,"ratio":2.27},{"NO":0.141,"ratio":2.33},{"NO":0.145,"ratio":2.4},{"NO":0.149,"ratio":2.46},{"NO":0.141,"ratio":2.53},{"NO":0.145,"ratio":2.59},{"NO":0.149,"ratio":2.66},{"NO":0.141,"ratio":2.72},{"NO":0.145,"ratio":2.79},{"NO":0.149,"ratio":2.85},{"NO":0.141,"ratio":2.96},{"NO":0.145,"ratio":3.04},
{"NO":0.174,"ratio":2.17},{"NO":0.178,"ratio":2.24},{"NO":0.17,"ratio":2.3},{"NO":0.174,"ratio":2.37},{"NO":0.178,"ratio":2.43},{"NO":0.17,"ratio":2.5},{"NO":0.174,"ratio":2.56},{"NO":0.178,"ratio":2.63},{"NO":0.17,"ratio":2.69},{"NO":0.174,"ratio":2.75},{"NO":0.178,"ratio":2.85},
{"NO":0.209,"ratio":2.13},{"NO":0.214,"ratio":2.2},{"NO":0.204,"ratio":2.26},{"NO":0.209,"ratio":2.33},{"NO":0.214,"ratio":2.39},{"NO":0.204,"ratio":2.46},{"NO":0.209,"ratio":2.52},{"NO":0.214,"ratio":2.59},{"NO":0.204,"ratio":2.65},{"NO":0.209,"ratio":2.76},{"NO":0.214,"ratio":2.84},
{"NO":0.251,"ratio":2.11},{"NO":0.257,"ratio":2.18},{"NO":0.245,"ratio":2.24},{"NO":0.251,"ratio":2.31},{"NO":0.257,"ratio":2.37},{"NO":0.245,"ratio":2.44},{"NO":0.251,"ratio":2.5},{"NO":0.257,"ratio":2.57},{"NO":0.245,"ratio":2.63},{"NO":0.251,"ratio":2.73},
{"NO":0.301,"ratio":2.08},{"NO":0.308,"ratio":2.15},{"NO":0.294,"ratio":2.21},{"NO":0.301,"ratio":2.28},{"NO":0.308,"ratio":2.34},{"NO":0.294,"ratio":2.41},{"NO":0.301,"ratio":2.47},{"NO":0.308,"ratio":2.54},{"NO":0.294,"ratio":2.63},
{"NO":0.361,"ratio":2.07},{"NO":0.37,"ratio":2.14},{"NO":0.352,"ratio":2.2},{"NO":0.361,"ratio":2.27},{"NO":0.37,"ratio":2.33},{"NO":0.352,"ratio":2.4},{"NO":0.361,"ratio":2.46},{"NO":0.37,"ratio":2.55},
{"NO":0.434,"ratio":2.04},{"NO":0.445,"ratio":2.11},{"NO":0.423,"ratio":2.17},{"NO":0.434,"ratio":2.24},{"NO":0.445,"ratio":2.3},{"NO":0.423,"ratio":2.37},{"NO":0.434,"ratio":2.44},{"NO":0.445,"ratio":2.53},
{"NO":0.52,"ratio":2.04},{"NO":0.533,"ratio":2.11},{"NO":0.507,"ratio":2.17},{"NO":0.52,"ratio":2.24},{"NO":0.533,"ratio":2.3},{"NO":0.507,"ratio":2.37},
{"NO":0.625,"ratio":2.02},{"NO":0.64,"ratio":2.09},{"NO":0.61,"ratio":2.15},{"NO":0.625,"ratio":2.22},{"NO":0.64,"ratio":2.28},
{"NO":0.75,"ratio":2.01},{"NO":0.77,"ratio":2.07},{"NO":0.73,"ratio":2.13},{"NO":0.75,"ratio":2.18},
{"NO":0.9,"ratio":1.99},{"NO":0.92,"ratio":2.05},{"NO":0.88,"ratio":2.1},
{"NO":1.08,"ratio":1.97},{"NO":1.1,"ratio":2.02},{"NO":1.06,"ratio":2.06},
{"NO":1.3,"ratio":1.96},{"NO":1.33,"ratio":2.01},{"NO":1.56,"ratio":1.95},{"NO":1.6,"ratio":2.0},{"NO":1.87,"ratio":1.94},{"NO":1.91,"ratio":1.98},
{"NO":2.25,"ratio":1.93},{"NO":2.3,"ratio":1.98},{"NO":2.7,"ratio":1.92},{"NO":2.65,"ratio":1.97},{"NO":3.2,"ratio":1.93},{"NO":3.15,"ratio":1.98},{"NO":3.8,"ratio":1.91},{"NO":3.75,"ratio":1.96},{"NO":4.5,"ratio":1.92},{"NO":4.45,"ratio":1.97},{"NO":5.4,"ratio":1.91},{"NO":5.3,"ratio":1.96},{"NO":6.4,"ratio":1.92},{"NO":6.3,"ratio":1.96},{"NO":7.6,"ratio":1.91},{"NO":7.5,"ratio":1.95},{"NO":9.0,"ratio":1.9},{"NO":8.9,"ratio":1.94},{"NO":2.45,"ratio":1.9},{"NO":3.5,"ratio":1.89},{"NO":4.9,"ratio":1.885},{"NO":5.9,"ratio":1.89},{"NO":7.0,"ratio":1.88},{"NO":8.3,"ratio":1.875},{"NO":2.5,"ratio":2.0},{"NO":4.0,"ratio":1.99},{"NO":6.0,"ratio":1.98},{"NO":8.0,"ratio":1.97},
{"NO":10.3,"ratio":1.88},{"NO":10.6,"ratio":1.92},{"NO":10.9,"ratio":1.96},{"NO":12.1,"ratio":1.89},{"NO":12.4,"ratio":1.93},{"NO":12.7,"ratio":1.97},{"NO":13.9,"ratio":1.88},{"NO":14.2,"ratio":1.92},{"NO":14.5,"ratio":1.96},{"NO":15.6,"ratio":1.87},{"NO":16.0,"ratio":1.91},{"NO":16.3,"ratio":1.95},{"NO":17.4,"ratio":1.88},{"NO":17.8,"ratio":1.92},{"NO":18.1,"ratio":1.95},{"NO":19.2,"ratio":1.86},{"NO":19.6,"ratio":1.9},{"NO":19.9,"ratio":1.94},{"NO":21.0,"ratio":1.87},{"NO":21.4,"ratio":1.91},{"NO":21.7,"ratio":1.95},{"NO":22.8,"ratio":1.85},{"NO":23.2,"ratio":1.9},{"NO":23.5,"ratio":1.94},{"NO":24.6,"ratio":1.86},{"NO":25.0,"ratio":1.9},{"NO":25.3,"ratio":1.93},{"NO":26.4,"ratio":1.84},{"NO":26.8,"ratio":1.89},{"NO":27.1,"ratio":1.93},{"NO":28.2,"ratio":1.85},{"NO":28.6,"ratio":1.88},{"NO":28.9,"ratio":1.92},{"NO":30.0,"ratio":1.83},{"NO":30.4,"ratio":1.88},{"NO":30.7,"ratio":1.92},{"NO":31.8,"ratio":1.82},{"NO":32.2,"ratio":1.87},{"NO":32.5,"ratio":1.91},{"NO":33.6,"ratio":1.84},{"NO":34.0,"ratio":1.88},{"NO":34.3,"ratio":1.92},
{"NO":35.3,"ratio":1.92},{"NO":35.8,"ratio":1.84},{"NO":36.8,"ratio":1.91},{"NO":37.3,"ratio":1.81},{"NO":37.8,"ratio":1.88},{"NO":38.3,"ratio":1.8},{"NO":40.3,"ratio":1.92},{"NO":40.8,"ratio":1.86},{"NO":41.8,"ratio":1.89},{"NO":43.3,"ratio":1.78},{"NO":43.8,"ratio":1.84},{"NO":44.3,"ratio":1.91},{"NO":45.3,"ratio":1.86},{"NO":46.3,"ratio":1.89},{"NO":46.8,"ratio":1.91},{"NO":46.6,"ratio":1.83},{"NO":48.3,"ratio":1.77},{"NO":49.3,"ratio":1.88},{"NO":50.2,"ratio":1.84},{"NO":51.2,"ratio":1.86},{"NO":51.5,"ratio":1.77},{"NO":52.7,"ratio":1.84},{"NO":53.2,"ratio":1.83},{"NO":56.2,"ratio":1.83},{"NO":57.2,"ratio":1.81},{"NO":57.9,"ratio":1.78},{"NO":59.2,"ratio":1.79},{"NO":60.2,"ratio":1.79},{"NO":61.0,"ratio":1.8},{"NO":62.2,"ratio":1.86},{"NO":67.9,"ratio":1.79},{"NO":70.9,"ratio":1.84},{"NO":71.4,"ratio":1.78},{"NO":72.6,"ratio":1.78},{"NO":75.6,"ratio":1.77},{"NO":77.8,"ratio":1.78},{"NO":77.8,"ratio":1.74},{"NO":81.1,"ratio":1.77},{"NO":82.4,"ratio":1.74},{"NO":83.1,"ratio":1.75},{"NO":85.8,"ratio":1.77},{"NO":86.8,"ratio":1.76},{"NO":89.1,"ratio":1.73},{"NO":91.0,"ratio":1.74},{"NO":93.3,"ratio":1.74},{"NO":94.0,"ratio":1.74},{"NO":96.5,"ratio":1.73}
]
},
"vconcat":[
{"hconcat":[
 {"title":{"text":"(a)","anchor":"start","frame":"bounds","fontSize":18,"color":"#000000","offset":-6},
  "vconcat":[{
  "width":344,"height":281,"data":{"name":"ihn"},
  "title":{"text":["(1-OH, 2-ONO₂)-IHN/","(4-OH, 3-ONO₂)-IHN"],"anchor":"middle","frame":"group","dx":-25,"lineHeight":30,"offset":2},
  "layer":[
   {"mark":{"type":"point","filled":true,"size":58,"color":"#000000","opacity":1},
    "encoding":{
     "x":{"field":"NO","type":"quantitative","scale":{"type":"log","domain":[0.01,100],"nice":false},"axis":{"orient":"bottom","values":[0.01,0.1,1,10,100],"format":"~g","title":"NO (ppb)","grid":true,"tickSize":8,"labelPadding":10,"titlePadding":14}},
     "y":{"field":"ratio","type":"quantitative","scale":{"domain":[1,4],"nice":false,"zero":false},"axis":{"orient":"left","values":[1,1.5,2,2.5,3,3.5,4],"format":".1f","title":"Ratio","grid":true,"tickSize":8,"labelPadding":12,"titlePadding":6}}}},
   {"mark":{"type":"point","opacity":0},
    "encoding":{
     "x":{"field":"NO","type":"quantitative","scale":{"type":"log","domain":[0.01,100],"nice":false},"axis":{"orient":"bottom","values":[0.02,0.03,0.04,0.05,0.06,0.07,0.08,0.09,0.2,0.3,0.4,0.5,0.6,0.7,0.8,0.9,2,3,4,5,6,7,8,9,20,30,40,50,60,70,80,90],"labels":false,"grid":false,"domain":false,"tickSize":4,"title":null}},
     "y":{"field":"ratio","type":"quantitative","scale":{"domain":[1,4],"nice":false,"zero":false},"axis":{"orient":"left","values":[1.1,1.2,1.3,1.4,1.6,1.7,1.8,1.9,2.1,2.2,2.3,2.4,2.6,2.7,2.8,2.9,3.1,3.2,3.3,3.4,3.6,3.7,3.8,3.9],"labels":false,"grid":false,"domain":false,"tickSize":5,"title":null}}}}
  ],
  "resolve":{"axis":{"x":"independent","y":"independent"}}
 }]},
 {"title":{"text":"(b)","anchor":"start","frame":"bounds","fontSize":18,"color":"#000000","offset":-6},
  "vconcat":[{
  "width":330,"height":281,"data":{"name":"isopoo"},
  "title":{"text":["(1-OH, 2-OO)-ISOPOO/","(4-OH, 3-OO)-ISOPOO"],"anchor":"middle","frame":"group","dx":-24,"lineHeight":30,"offset":2},
  "layer":[
   {"mark":{"type":"point","filled":true,"size":58,"color":"#000000","opacity":1},
    "encoding":{
     "x":{"field":"NO","type":"quantitative","scale":{"type":"log","domain":[0.01,100],"nice":false},"axis":{"orient":"bottom","values":[0.01,0.1,1,10,100],"format":"~g","title":"NO (ppb)","grid":true,"tickSize":8,"labelPadding":10,"titlePadding":14}},
     "y":{"field":"ratio","type":"quantitative","scale":{"domain":[1,4],"nice":false,"zero":false},"axis":{"orient":"left","values":[1,1.5,2,2.5,3,3.5,4],"format":".1f","title":"Ratio","grid":true,"tickSize":8,"labelPadding":12,"titlePadding":6}}}},
   {"mark":{"type":"point","opacity":0},
    "encoding":{
     "x":{"field":"NO","type":"quantitative","scale":{"type":"log","domain":[0.01,100],"nice":false},"axis":{"orient":"bottom","values":[0.02,0.03,0.04,0.05,0.06,0.07,0.08,0.09,0.2,0.3,0.4,0.5,0.6,0.7,0.8,0.9,2,3,4,5,6,7,8,9,20,30,40,50,60,70,80,90],"labels":false,"grid":false,"domain":false,"tickSize":4,"title":null}},
     "y":{"field":"ratio","type":"quantitative","scale":{"domain":[1,4],"nice":false,"zero":false},"axis":{"orient":"left","values":[1.1,1.2,1.3,1.4,1.6,1.7,1.8,1.9,2.1,2.2,2.3,2.4,2.6,2.7,2.8,2.9,3.1,3.2,3.3,3.4,3.6,3.7,3.8,3.9],"labels":false,"grid":false,"domain":false,"tickSize":5,"title":null}}}}
  ],
  "resolve":{"axis":{"x":"independent","y":"independent"}}
 }]},
 {"title":{"text":"(c)","anchor":"start","frame":"bounds","fontSize":18,"color":"#000000","offset":-6},
  "vconcat":[{
  "width":335,"height":281,"data":{"name":"phi"},
  "title":{"text":["ϕ-(1-OH, 2-OO)-ISOPOO/","ϕ-(4-OH, 3-OO)-ISOPOO"],"anchor":"middle","frame":"group","dx":-25,"lineHeight":30,"offset":2},
  "layer":[
   {"mark":{"type":"point","filled":true,"size":58,"color":"#000000","opacity":1},
    "encoding":{
     "x":{"field":"NO","type":"quantitative","scale":{"type":"log","domain":[0.01,100],"nice":false},"axis":{"orient":"bottom","values":[0.01,0.1,1,10,100],"format":"~g","title":"NO (ppb)","grid":true,"tickSize":8,"labelPadding":10,"titlePadding":14}},
     "y":{"field":"ratio","type":"quantitative","scale":{"domain":[1,4],"nice":false,"zero":false},"axis":{"orient":"left","values":[1,1.5,2,2.5,3,3.5,4],"format":".1f","title":"Rtaio","grid":true,"tickSize":8,"labelPadding":12,"titlePadding":6}}}},
   {"mark":{"type":"point","opacity":0},
    "encoding":{
     "x":{"field":"NO","type":"quantitative","scale":{"type":"log","domain":[0.01,100],"nice":false},"axis":{"orient":"bottom","values":[0.02,0.03,0.04,0.05,0.06,0.07,0.08,0.09,0.2,0.3,0.4,0.5,0.6,0.7,0.8,0.9,2,3,4,5,6,7,8,9,20,30,40,50,60,70,80,90],"labels":false,"grid":false,"domain":false,"tickSize":4,"title":null}},
     "y":{"field":"ratio","type":"quantitative","scale":{"domain":[1,4],"nice":false,"zero":false},"axis":{"orient":"left","values":[1.1,1.2,1.3,1.4,1.6,1.7,1.8,1.9,2.1,2.2,2.3,2.4,2.6,2.7,2.8,2.9,3.1,3.2,3.3,3.4,3.6,3.7,3.8,3.9],"labels":false,"grid":false,"domain":false,"tickSize":5,"title":null}}}}
  ],
  "resolve":{"axis":{"x":"independent","y":"independent"}}
 }]}
],"spacing":17},
{"hconcat":[
 {"width":342,"height":320,"data":{"name":"ihn"},
  "title":{"text":"(d)","anchor":"start","frame":"bounds","fontSize":18,"color":"#000000","offset":4,"dx":5},
  "layer":[
   {"mark":{"type":"point","filled":true,"size":58,"color":"#000000","opacity":1},
    "encoding":{
     "x":{"field":"NO","type":"quantitative","scale":{"domain":[0,100],"nice":false},"axis":{"orient":"bottom","values":[0,50,100],"title":"NO (ppb)","grid":true,"tickSize":8,"labelPadding":10,"titlePadding":11}},
     "y":{"field":"ratio","type":"quantitative","scale":{"domain":[1,4],"nice":false,"zero":false},"axis":{"orient":"left","values":[1,1.5,2,2.5,3,3.5,4],"format":".1f","title":"Ratio","grid":true,"tickSize":8,"labelPadding":12,"titlePadding":6}}}},
   {"mark":{"type":"point","opacity":0},
    "encoding":{
     "x":{"field":"NO","type":"quantitative","scale":{"domain":[0,100],"nice":false},"axis":{"orient":"bottom","values":[10,20,30,40,60,70,80,90],"labels":false,"grid":false,"domain":false,"tickSize":6,"title":null}},
     "y":{"field":"ratio","type":"quantitative","scale":{"domain":[1,4],"nice":false,"zero":false},"axis":{"orient":"left","values":[1.1,1.2,1.3,1.4,1.6,1.7,1.8,1.9,2.1,2.2,2.3,2.4,2.6,2.7,2.8,2.9,3.1,3.2,3.3,3.4,3.6,3.7,3.8,3.9],"labels":false,"grid":false,"domain":false,"tickSize":5,"title":null}}}}
  ],
  "resolve":{"axis":{"x":"independent","y":"independent"}}
 },
 {"width":336,"height":320,"data":{"name":"isopoo"},
  "title":{"text":"(e)","anchor":"start","frame":"bounds","fontSize":18,"color":"#000000","offset":4,"dx":2},
  "layer":[
   {"mark":{"type":"point","filled":true,"size":58,"color":"#000000","opacity":1},
    "encoding":{
     "x":{"field":"NO","type":"quantitative","scale":{"domain":[0,100],"nice":false},"axis":{"orient":"bottom","values":[0,50,100],"title":"NO (ppb)","grid":true,"tickSize":8,"labelPadding":10,"titlePadding":11}},
     "y":{"field":"ratio","type":"quantitative","scale":{"domain":[1,4],"nice":false,"zero":false},"axis":{"orient":"left","values":[1,1.5,2,2.5,3,3.5,4],"format":".1f","title":"Ratio","grid":true,"tickSize":8,"labelPadding":12,"titlePadding":6}}}},
   {"mark":{"type":"point","opacity":0},
    "encoding":{
     "x":{"field":"NO","type":"quantitative","scale":{"domain":[0,100],"nice":false},"axis":{"orient":"bottom","values":[10,20,30,40,60,70,80,90],"labels":false,"grid":false,"domain":false,"tickSize":6,"title":null}},
     "y":{"field":"ratio","type":"quantitative","scale":{"domain":[1,4],"nice":false,"zero":false},"axis":{"orient":"left","values":[1.1,1.2,1.3,1.4,1.6,1.7,1.8,1.9,2.1,2.2,2.3,2.4,2.6,2.7,2.8,2.9,3.1,3.2,3.3,3.4,3.6,3.7,3.8,3.9],"labels":false,"grid":false,"domain":false,"tickSize":5,"title":null}}}}
  ],
  "resolve":{"axis":{"x":"independent","y":"independent"}}
 },
 {"width":335,"height":320,"data":{"name":"phi"},
  "title":{"text":"(f)","anchor":"start","frame":"bounds","fontSize":18,"color":"#000000","offset":4,"dx":4},
  "layer":[
   {"mark":{"type":"point","filled":true,"size":58,"color":"#000000","opacity":1},
    "encoding":{
     "x":{"field":"NO","type":"quantitative","scale":{"domain":[0,100],"nice":false},"axis":{"orient":"bottom","values":[0,50,100],"title":"NO (ppb)","grid":true,"tickSize":8,"labelPadding":10,"titlePadding":11}},
     "y":{"field":"ratio","type":"quantitative","scale":{"domain":[1,4],"nice":false,"zero":false},"axis":{"orient":"left","values":[1,1.5,2,2.5,3,3.5,4],"format":".1f","title":"Rtaio","grid":true,"tickSize":8,"labelPadding":12,"titlePadding":6}}}},
   {"mark":{"type":"point","opacity":0},
    "encoding":{
     "x":{"field":"NO","type":"quantitative","scale":{"domain":[0,100],"nice":false},"axis":{"orient":"bottom","values":[10,20,30,40,60,70,80,90],"labels":false,"grid":false,"domain":false,"tickSize":6,"title":null}},
     "y":{"field":"ratio","type":"quantitative","scale":{"domain":[1,4],"nice":false,"zero":false},"axis":{"orient":"left","values":[1.1,1.2,1.3,1.4,1.6,1.7,1.8,1.9,2.1,2.2,2.3,2.4,2.6,2.7,2.8,2.9,3.1,3.2,3.3,3.4,3.6,3.7,3.8,3.9],"labels":false,"grid":false,"domain":false,"tickSize":5,"title":null}}}}
  ],
  "resolve":{"axis":{"x":"independent","y":"independent"}}
 }
],"spacing":14}
],
"spacing":-1
}
